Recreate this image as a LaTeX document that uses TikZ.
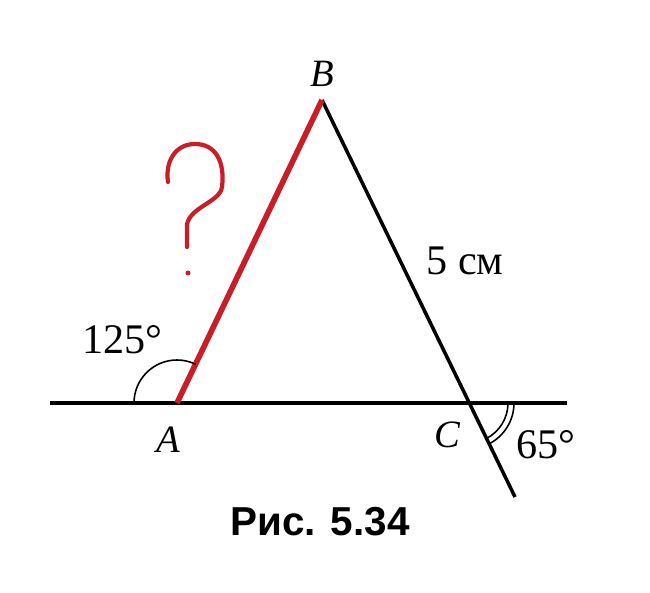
\documentclass[tikz,border=0pt]{standalone}
\usepackage{fontspec}
\setmainfont{Liberation Serif}
\newfontfamily\capfont{Liberation Sans}
\definecolor{qred}{RGB}{200,30,40}
\tikzset{
  seg/.style={line width=2pt},
  redseg/.style={line width=3.2pt, qred},
  arcmark/.style={line width=0.9pt},
  vlabel/.style={font=\fontsize{22}{25}\selectfont\itshape},
  mlabel/.style={font=\fontsize{24}{28}\selectfont}
}
\begin{document}
\begin{tikzpicture}
  \useasboundingbox (0,0) rectangle (13,11.84);
  % points of the triangle
  \coordinate (A) at (3.54, 3.78);
  \coordinate (B) at (6.44, 9.84);
  \coordinate (C) at (9.36, 3.78);
  \coordinate (L) at (1.0, 3.78);
  \coordinate (R) at (11.34, 3.78);
  \coordinate (E) at (10.30, 1.90);
  % lines
  \draw[seg] (L) -- (R);
  \draw[seg] (B) -- (E);
  \draw[redseg] (A) -- (B);
  % angle marks
  \draw[arcmark] (A) ++(180:0.86) arc[start angle=180, end angle=64, radius=0.86];
  \draw[arcmark] (C) ++(0:0.8) arc[start angle=0, end angle=-63.4, radius=0.8];
  \draw[arcmark] (C) ++(0:0.92) arc[start angle=0, end angle=-63.4, radius=0.92];
  % question mark
  \draw[qred, line width=2.4pt, line cap=round, line join=round]
    (3.36,8.2) .. controls (3.3,8.6) and (3.5,8.96) .. (3.9,8.96)
    .. controls (4.32,8.96) and (4.5,8.6) .. (4.44,8.1)
    .. controls (4.4,7.8) and (3.8,7.7) .. (3.74,7.35) -- (3.74,6.9);
  \fill[qred] (3.76,6.38) circle (0.05);
  % labels
  \node[vlabel] (lA) at (3.36, 3.04) {A};
  \node[vlabel] (lB) at (6.44, 10.36) {B};
  \node[vlabel] (lC) at (8.94, 3.14) {C};
  \node[mlabel] (lang1) at (2.45, 5.04) {125°};
  \node[mlabel] (lside) at (9.3, 6.62) {5 см};
  \node[mlabel] (lang2) at (10.92, 2.94) {65°};
  \node[font=\capfont\bfseries\fontsize{23}{26}\selectfont] (cap) at (6.4, 1.4) {Рис. 5.34};
\end{tikzpicture}
\end{document}
